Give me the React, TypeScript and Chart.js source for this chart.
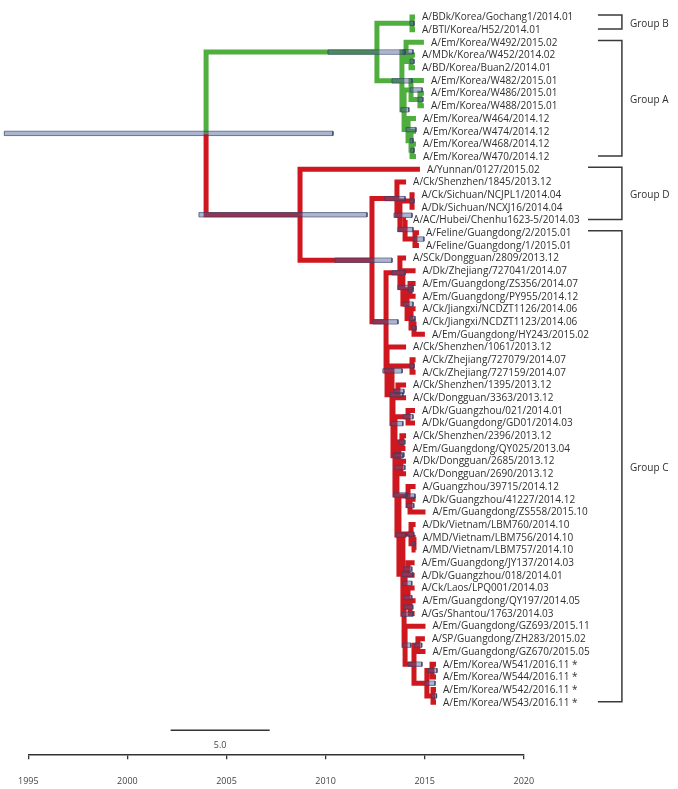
import React, { useEffect, useRef } from 'react';
import { Chart, registerables } from 'chart.js';

Chart.register(...registerables);

// ---- Tips (top to bottom) ----
const tipNames: string[] = [
  'A/BDk/Korea/Gochang1/2014.01',
  'A/BTl/Korea/H52/2014.01',
  'A/Em/Korea/W492/2015.02',
  'A/MDk/Korea/W452/2014.02',
  'A/BD/Korea/Buan2/2014.01',
  'A/Em/Korea/W482/2015.01',
  'A/Em/Korea/W486/2015.01',
  'A/Em/Korea/W488/2015.01',
  'A/Em/Korea/W464/2014.12',
  'A/Em/Korea/W474/2014.12',
  'A/Em/Korea/W468/2014.12',
  'A/Em/Korea/W470/2014.12',
  'A/Yunnan/0127/2015.02',
  'A/Ck/Shenzhen/1845/2013.12',
  'A/Ck/Sichuan/NCJPL1/2014.04',
  'A/Dk/Sichuan/NCXJ16/2014.04',
  'A/AC/Hubei/Chenhu1623-5/2014.03',
  'A/Feline/Guangdong/2/2015.01',
  'A/Feline/Guangdong/1/2015.01',
  'A/SCk/Dongguan/2809/2013.12',
  'A/Dk/Zhejiang/727041/2014.07',
  'A/Em/Guangdong/ZS356/2014.07',
  'A/Em/Guangdong/PY955/2014.12',
  'A/Ck/Jiangxi/NCDZT1126/2014.06',
  'A/Ck/Jiangxi/NCDZT1123/2014.06',
  'A/Em/Guangdong/HY243/2015.02',
  'A/Ck/Shenzhen/1061/2013.12',
  'A/Ck/Zhejiang/727079/2014.07',
  'A/Ck/Zhejiang/727159/2014.07',
  'A/Ck/Shenzhen/1395/2013.12',
  'A/Ck/Dongguan/3363/2013.12',
  'A/Dk/Guangzhou/021/2014.01',
  'A/Dk/Guangdong/GD01/2014.03',
  'A/Ck/Shenzhen/2396/2013.12',
  'A/Em/Guangdong/QY025/2013.04',
  'A/Dk/Dongguan/2685/2013.12',
  'A/Ck/Dongguan/2690/2013.12',
  'A/Guangzhou/39715/2014.12',
  'A/Dk/Guangzhou/41227/2014.12',
  'A/Em/Guangdong/ZS558/2015.10',
  'A/Dk/Vietnam/LBM760/2014.10',
  'A/MD/Vietnam/LBM756/2014.10',
  'A/MD/Vietnam/LBM757/2014.10',
  'A/Em/Guangdong/JY137/2014.03',
  'A/Dk/Guangzhou/018/2014.01',
  'A/Ck/Laos/LPQ001/2014.03',
  'A/Em/Guangdong/QY197/2014.05',
  'A/Gs/Shantou/1763/2014.03',
  'A/Em/Guangdong/GZ693/2015.11',
  'A/SP/Guangdong/ZH283/2015.02',
  'A/Em/Guangdong/GZ670/2015.05',
  'A/Em/Korea/W541/2016.11 *',
  'A/Em/Korea/W544/2016.11 *',
  'A/Em/Korea/W542/2016.11 *',
  'A/Em/Korea/W543/2016.11 *',
];

// tip heights on the time axis
const tipTimes: number[] = [
  2014.51, 2014.51, 2014.96, 2014.51, 2014.51, 2014.96, 2014.96, 2014.96,
  2014.56, 2014.56, 2014.56, 2014.56, 2014.76, 2014.06, 2014.49, 2014.49,
  2014.06, 2014.71, 2014.71, 2014.06, 2014.54, 2014.54, 2014.54, 2014.54,
  2014.54, 2015.01, 2014.06, 2014.54, 2014.54, 2014.06, 2014.06, 2014.51,
  2014.51, 2014.06, 2014.03, 2014.06, 2014.06, 2014.54, 2014.54, 2015.04,
  2014.54, 2014.54, 2014.54, 2014.49, 2014.49, 2014.49, 2014.54, 2014.49,
  2015.04, 2015.01, 2015.04, 2015.57, 2015.57, 2015.57, 2015.57,
];

// ---- Internal nodes ----
const nodeNames: string[] = [
  'root', 'G0', 'B', 'A', 'S1', 'S1b', 'S2', 'S2a', 'S2c', 'S2b', 'S2d', 'S2e',
  'R', 'R2', 'D1', 'D2', 'D3', 'D4', 'D5',
  'CB', 'U', 'Z', 'Z2', 'Z3', 'Z4', 'Z5',
  'M', 'M2', 'Zj', 'M3', 'P13', 'M4', 'Gz', 'M5', 'Q3', 'Q3a', 'Q3b', 'M6', 'G1', 'G2',
  'M7', 'V1', 'V2', 'M8', 'N', 'N1', 'N2', 'N3', 'P1', 'P2', 'P3', 'K', 'K1', 'K2',
];

const nodeTimes: number[] = [
  2003.97, 2012.59, 2014.36, 2013.85, 2014.06, 2014.31, 2013.96, 2014.31, 2014.76, 2014.16, 2014.31, 2014.36,
  2008.71, 2012.34, 2013.60, 2013.75, 2014.36, 2014.01, 2014.51,
  2013.05, 2013.75, 2013.90, 2014.11, 2014.26, 2014.31, 2014.46,
  2013.10, 2013.35, 2014.36, 2013.40, 2013.65, 2013.50, 2014.16, 2013.60, 2013.70, 2013.85, 2013.80, 2013.70, 2014.16, 2014.26,
  2013.90, 2014.31, 2014.46, 2013.96, 2014.01, 2014.16, 2014.16, 2014.26, 2014.01, 2014.46, 2014.66, 2015.11, 2015.37, 2015.42,
];

const nodeChildren: Array<[string | number, string | number]> = [
  ['G0', 'R'], ['B', 'A'], [0, 1], ['S1', 'S2'], [2, 'S1b'], [3, 4], ['S2a', 'S2b'], [5, 'S2c'], [6, 7], [8, 'S2d'], [9, 'S2e'], [10, 11],
  [12, 'R2'], ['D1', 'CB'], [13, 'D2'], ['D3', 'D4'], [14, 15], [16, 'D5'], [17, 18],
  ['U', 'M'], [19, 'Z'], [20, 'Z2'], ['Z3', 'Z4'], [21, 22], [23, 'Z5'], [24, 25],
  [26, 'M2'], ['Zj', 'M3'], [27, 28], ['P13', 'M4'], [29, 30], ['Gz', 'M5'], [31, 32], ['Q3', 'M6'], ['Q3a', 'Q3b'], [33, 34], [35, 36], ['G1', 'M7'], [37, 'G2'], [38, 39],
  ['V1', 'M8'], [40, 'V2'], [41, 42], ['N', 'P1'], ['N1', 'N2'], [43, 44], [45, 'N3'], [46, 47], [48, 'P2'], ['P3', 'K'], [49, 50], ['K1', 'K2'], [51, 52], [53, 54],
];

// 95% HPD intervals of node heights
const hpdLow: number[] = [
  1993.79, 2010.12, 2014.26, 2013.35, 2013.91, 2014.26, 2013.80, 2014.26, 2014.66, 2014.06, 2014.26, 2014.30,
  2003.61, 2010.47, 2012.99, 2013.45, 2014.26, 2013.65, 2014.46,
  2012.39, 2013.35, 2013.65, 2013.91, 2014.16, 2014.26, 2014.36,
  2012.89, 2013.25, 2014.26, 2013.30, 2013.45, 2013.40, 2013.91, 2013.45, 2013.50, 2013.70, 2013.50, 2013.55, 2014.01, 2014.10,
  2013.85, 2014.15, 2014.40, 2013.85, 2013.90, 2013.95, 2013.95, 2013.95, 2013.90, 2014.16, 2014.50, 2015.02, 2015.17, 2015.35,
];
const hpdHigh: number[] = [
  2010.37, 2014.01, 2014.46, 2014.36, 2014.41, 2014.46, 2014.20, 2014.87, 2014.91, 2014.56, 2014.41, 2014.46,
  2012.09, 2013.35, 2014.01, 2014.36, 2014.46, 2014.41, 2014.96,
  2013.65, 2014.01, 2014.41, 2014.41, 2014.41, 2014.51, 2014.56,
  2013.86, 2013.90, 2014.46, 2013.90, 2013.95, 2013.90, 2014.41, 2014.10, 2013.95, 2014.00, 2014.00, 2014.05, 2014.51, 2014.45,
  2014.40, 2014.45, 2014.52, 2014.40, 2014.35, 2014.35, 2014.35, 2014.40, 2014.30, 2014.86, 2014.85, 2015.52, 2015.62, 2015.60,
];

const greenCladeRoot = 'G0';

// ---- Groups ----
const groupNames: string[] = ['Group B', 'Group A', 'Group D', 'Group C'];
const groupFirstTip: number[] = [0, 2, 12, 17];
const groupLastTip: number[] = [1, 11, 16, 54];
const groupTopLeft: number[] = [2023.74, 2023.74, 2023.24, 2023.24];
const groupBottomLeft: number[] = [2023.74, 2023.74, 2023.24, 2023.74];
const groupRight = 2024.95;

// ---- Axis / scale bar ----
const axisMin = 1995;
const axisMax = 2020;
const axisStep = 5;
const scaleBarStart = 2002.18;
const scaleBarLength = 5.0;
const scaleBarRow = 56.2;

const GREEN = '#4fae3d';
const RED = '#cf1720';

function buildTree() {
  const idx = new Map<string, number>();
  nodeNames.forEach((n, i) => idx.set(n, i));
  const yMemo = new Map<string, number>();
  const yOf = (c: string | number): number => {
    if (typeof c === 'number') return c;
    if (yMemo.has(c)) return yMemo.get(c)!;
    const [a, b] = nodeChildren[idx.get(c)!];
    const v = (yOf(a) + yOf(b)) / 2;
    yMemo.set(c, v);
    return v;
  };
  const xOf = (c: string | number): number =>
    typeof c === 'number' ? tipTimes[c] : nodeTimes[idx.get(c)!];

  const green = new Set<string>();
  const mark = (c: string | number) => {
    green.add(String(c));
    if (typeof c === 'string') nodeChildren[idx.get(c)!].forEach(mark);
  };
  mark(greenCladeRoot);

  const gap = { x: null as any, y: null as any };
  const greenPts: any[] = [];
  const redPts: any[] = [];
  const hpdFill: any[] = [];
  const hpdEdge: any[] = [];
  const d = 0.17;
  nodeNames.forEach((n, i) => {
    const xn = nodeTimes[i];
    const yn = yOf(n);
    nodeChildren[i].forEach((c) => {
      const yc = yOf(c);
      const pts = [{ x: xn, y: yn }, { x: xn, y: yc }, { x: xOf(c), y: yc }, gap];
      (green.has(String(c)) ? greenPts : redPts).push(...pts);
    });
    const lo = hpdLow[i];
    const hi = hpdHigh[i];
    hpdFill.push({ x: lo, y: yn }, { x: hi, y: yn }, gap);
    hpdEdge.push(
      { x: lo, y: yn - d }, { x: hi, y: yn - d }, { x: hi, y: yn + d },
      { x: lo, y: yn + d }, { x: lo, y: yn - d }, gap,
    );
  });
  return { greenPts, redPts, hpdFill, hpdEdge };
}

const labelPlugin = {
  id: 'treeLabels',
  afterDatasetsDraw(chart: any) {
    const { ctx, scales } = chart;
    const x = scales.x;
    const y = scales.y;
    ctx.save();
    ctx.font = '10px "Open Sans"';
    ctx.fillStyle = '#2f2f2f';
    ctx.textBaseline = 'middle';
    ctx.textAlign = 'left';
    tipNames.forEach((name, i) => {
      ctx.fillText(name, x.getPixelForValue(tipTimes[i]) + 7, y.getPixelForValue(i) + 0.5);
    });
    ctx.strokeStyle = '#3a3a3a';
    ctx.lineWidth = 1.5;
    groupNames.forEach((g, k) => {
      const yt = y.getPixelForValue(groupFirstTip[k] - 0.15);
      const yb = y.getPixelForValue(groupLastTip[k] - 0.05);
      const xr = x.getPixelForValue(groupRight);
      ctx.beginPath();
      ctx.moveTo(x.getPixelForValue(groupTopLeft[k]), yt);
      ctx.lineTo(xr, yt);
      ctx.lineTo(xr, yb);
      ctx.lineTo(x.getPixelForValue(groupBottomLeft[k]), yb);
      ctx.stroke();
      ctx.fillText(g, xr + 8, (yt + yb) / 2 + 2);
    });
    ctx.font = '9px "Open Sans"';
    ctx.textAlign = 'center';
    ctx.fillStyle = '#444';
    ctx.fillText(
      scaleBarLength.toFixed(1),
      x.getPixelForValue(scaleBarStart + scaleBarLength / 2),
      y.getPixelForValue(scaleBarRow) + 15,
    );
    ctx.restore();
  },
};

export default function App() {
  const ref = useRef<HTMLCanvasElement | null>(null);
  useEffect(() => {
    document.body.style.margin = '0';
    const canvas = ref.current;
    if (!canvas) return;
    const { greenPts, redPts, hpdFill, hpdEdge } = buildTree();
    const common = {
      pointRadius: 0,
      pointHoverRadius: 0,
      tension: 0,
      spanGaps: false,
      fill: false,
      clip: false as any,
      borderCapStyle: 'butt' as const,
      borderJoinStyle: 'miter' as const,
    };
    const chart = new Chart(canvas, {
      type: 'line',
      data: {
        datasets: [
          { ...common, data: hpdEdge, borderColor: 'rgba(55,65,105,0.75)', borderWidth: 1 },
          { ...common, data: hpdFill, borderColor: 'rgba(70,90,150,0.45)', borderWidth: 3.4 },
          {
            ...common,
            data: [
              { x: scaleBarStart, y: scaleBarRow },
              { x: scaleBarStart + scaleBarLength, y: scaleBarRow },
            ],
            borderColor: '#333',
            borderWidth: 1.5,
          },
          { ...common, data: greenPts, borderColor: GREEN, borderWidth: 5 },
          { ...common, data: redPts, borderColor: RED, borderWidth: 5 },
        ] as any,
      },
      options: {
        responsive: false,
        animation: false,
        devicePixelRatio: 1,
        events: [],
        layout: { padding: { left: 28.3, right: 154.2, top: 4.3, bottom: 0 } },
        plugins: { legend: { display: false }, tooltip: { enabled: false } },
        scales: {
          x: {
            type: 'linear',
            min: axisMin,
            max: axisMax,
            afterFit: (scale: any) => {
              scale.height = 34.7;
            },
            grid: {
              display: true,
              drawOnChartArea: false,
              drawTicks: true,
              tickLength: 5,
              color: '#333',
              lineWidth: 1.3,
            },
            border: { display: true, color: '#333', width: 1.5 },
            ticks: {
              stepSize: axisStep,
              padding: 16.3,
              color: '#444',
              font: { family: '"Open Sans"', size: 9 },
              maxRotation: 0,
              callback: (v: any) => String(v),
            },
          },
          y: {
            type: 'linear',
            display: false,
            reverse: true,
            min: -1,
            max: 58.1,
          },
        },
      } as any,
      plugins: [labelPlugin],
    });
    return () => chart.destroy();
  }, []);
  return <canvas ref={ref} width={678} height={789} style={{ display: 'block' }} />;
}
